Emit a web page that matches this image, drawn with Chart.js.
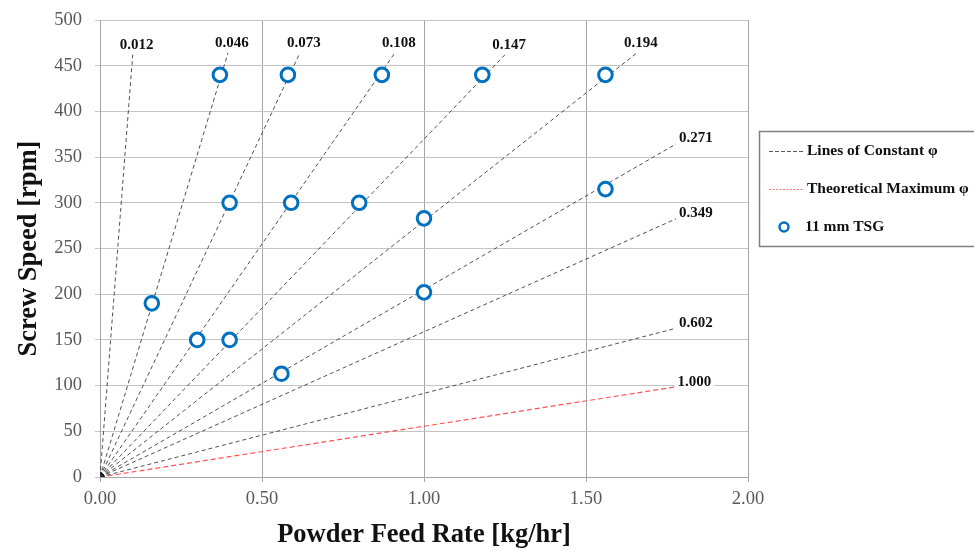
<!DOCTYPE html>
<html lang="en">
<head>
    <meta charset="UTF-8">
    <title>Screw Speed vs Powder Feed Rate</title>
    <script src="https://cdn.jsdelivr.net/npm/chart.js"></script>
    <style>
        body {
            margin: 0;
            background: #fff;
        }

        .chart-container {
            width: 974px;
            height: 551px;
        }
    </style>
</head>
<body>
    <div class="chart-container">
        <canvas id="chart" width="974" height="551"></canvas>
    </div>
    <script>
        // lines of constant phi: each runs from the origin to an end point
        var phiLabels = ['0.012', '0.046', '0.073', '0.108', '0.147', '0.194', '0.271', '0.349', '0.602', '1.000'];
        var lineEndX = [0.101, 0.395, 0.617, 0.910, 1.250, 1.657, 1.781, 1.781, 1.781, 1.776];
        var lineEndY = [462, 464, 464, 464, 462, 464, 365, 283, 163, 98.6];

        // 11 mm TSG measurements
        var tsgFeed = [0.16, 0.30, 0.40, 0.56, 0.37, 0.40, 0.58, 0.59, 0.80, 0.87, 1.00, 1.00, 1.18, 1.56, 1.56];
        var tsgSpeed = [190, 150, 150, 113, 440, 300, 440, 300, 300, 440, 283, 202, 440, 440, 315];

        var xTicks = [0, 0.5, 1.0, 1.5, 2.0];
        var yTicks = [0, 50, 100, 150, 200, 250, 300, 350, 400, 450, 500];

        var serif = "'Liberation Serif', 'DejaVu Serif', serif";

        var datasets = [];
        datasets.push({
            label: '11 mm TSG',
            data: tsgFeed.map(function(v, i) { return { x: v, y: tsgSpeed[i] }; }),
            showLine: false,
            pointRadius: 6.8,
            pointBorderWidth: 3,
            pointBorderColor: '#0070c0',
            pointBackgroundColor: '#fff',
            order: 0
        });

        phiLabels.forEach(function(lbl, i) {
            var isMax = (lbl === '1.000');
            datasets.push({
                label: lbl,
                data: [{ x: 0, y: 0 }, { x: lineEndX[i], y: lineEndY[i] }],
                showLine: true,
                borderColor: isMax ? 'rgba(255, 40, 40, 0.8)' : 'rgba(50, 50, 50, 0.85)',
                borderWidth: isMax ? 1.2 : 1,
                borderDash: isMax ? [5, 3] : [4, 3],
                pointRadius: [3.5, 0],
                pointBorderColor: '#222',
                pointBorderWidth: 1.8,
                pointBackgroundColor: 'rgba(255,255,255,0)',
                labelAt: lineEndY[i] > 400 ? 'top' : 'right',
                order: 1
            });
        });

        // phi value labels at the end of each line
        var lineLabels = {
            id: 'lineLabels',
            afterDatasetsDraw: function(chart) {
                var ctx = chart.ctx;
                var xs = chart.scales.x, ys = chart.scales.y;
                ctx.save();
                ctx.font = 'bold 15px ' + serif;
                ctx.textBaseline = 'middle';
                chart.data.datasets.forEach(function(ds) {
                    if (!ds.labelAt) return;
                    var i = phiLabels.indexOf(ds.label);
                    var px = xs.getPixelForValue(lineEndX[i]);
                    var py = ys.getPixelForValue(lineEndY[i]);
                    var w = ctx.measureText(ds.label).width;
                    var tx, ty;
                    if (ds.labelAt === 'top') {
                        tx = px + 4 - w / 2;
                        ty = py - 10;
                    } else {
                        tx = px + 2;
                        ty = py - 5;
                    }
                    ctx.fillStyle = '#fff';
                    ctx.fillRect(tx - 3, ty - 9, w + 6, 18);
                    ctx.fillStyle = '#111';
                    ctx.textAlign = 'left';
                    ctx.fillText(ds.label, tx, ty);
                });
                ctx.restore();
            }
        };

        // legend box on the right, like the original
        var sideLegend = {
            id: 'sideLegend',
            afterDraw: function(chart) {
                var ctx = chart.ctx;
                ctx.save();
                ctx.strokeStyle = '#7f7f7f';
                ctx.lineWidth = 1.5;
                ctx.strokeRect(759.5, 131.5, 230, 115);

                ctx.font = 'bold 15.5px ' + serif;
                ctx.textBaseline = 'middle';
                ctx.fillStyle = '#111';

                ctx.strokeStyle = 'rgba(50,50,50,0.8)';
                ctx.lineWidth = 1;
                ctx.setLineDash([4, 2]);
                ctx.beginPath();
                ctx.moveTo(769, 151.5);
                ctx.lineTo(803, 151.5);
                ctx.stroke();
                ctx.fillText('Lines of Constant \u03c6', 807, 151);

                ctx.strokeStyle = 'rgba(255,60,60,0.7)';
                ctx.setLineDash([2, 1.5]);
                ctx.beginPath();
                ctx.moveTo(769, 189.5);
                ctx.lineTo(803, 189.5);
                ctx.stroke();
                ctx.fillText('Theoretical Maximum \u03c6', 807, 189);

                ctx.setLineDash([]);
                ctx.strokeStyle = '#0070c0';
                ctx.lineWidth = 2.5;
                ctx.beginPath();
                ctx.arc(784, 227, 4.5, 0, Math.PI * 2);
                ctx.stroke();
                ctx.fillText('11 mm TSG', 805, 227);
                ctx.restore();
            }
        };

        var chart = new Chart(document.getElementById('chart').getContext('2d'), {
            type: 'scatter',
            data: { datasets: datasets },
            plugins: [lineLabels, sideLegend],
            options: {
                responsive: false,
                animation: false,
                layout: { padding: { top: 20, right: 226, left: 0, bottom: 0 } },
                plugins: {
                    legend: { display: false },
                    tooltip: { enabled: false }
                },
                scales: {
                    x: {
                        type: 'linear',
                        min: 0,
                        max: 2,
                        afterFit: function(scale) { scale.height = 74; },
                        afterBuildTicks: function(scale) {
                            scale.ticks = xTicks.map(function(v) { return { value: v }; });
                        },
                        ticks: {
                            color: '#595959',
                            font: { family: serif, size: 18.5 },
                            padding: 6,
                            maxRotation: 0,
                            callback: function(v) { return Number(v).toFixed(2); }
                        },
                        grid: { color: '#a6a6a6', tickLength: 5, lineWidth: 1 },
                        border: { color: '#a6a6a6' },
                        title: {
                            display: true,
                            text: 'Powder Feed Rate [kg/hr]',
                            color: '#111',
                            font: { family: serif, size: 26.5, weight: 'bold' },
                            padding: { top: 0, bottom: 0 }
                        }
                    },
                    y: {
                        min: 0,
                        max: 500,
                        afterFit: function(scale) {
                            scale.width = 100;
                            scale.paddingTop = 0;
                            scale.paddingBottom = 0;
                        },
                        afterBuildTicks: function(scale) {
                            scale.ticks = yTicks.map(function(v) { return { value: v }; });
                        },
                        ticks: {
                            color: '#595959',
                            font: { family: serif, size: 18.5 },
                            padding: 13
                        },
                        grid: { color: '#c4c4c4', tickLength: 5, lineWidth: 1 },
                        border: { color: '#a6a6a6' },
                        title: {
                            display: true,
                            text: 'Screw Speed [rpm]',
                            color: '#111',
                            font: { family: serif, size: 26.5, weight: 'bold' },
                            padding: { top: 13, bottom: 0 }
                        }
                    }
                }
            }
        });
    </script>
</body>
</html>
